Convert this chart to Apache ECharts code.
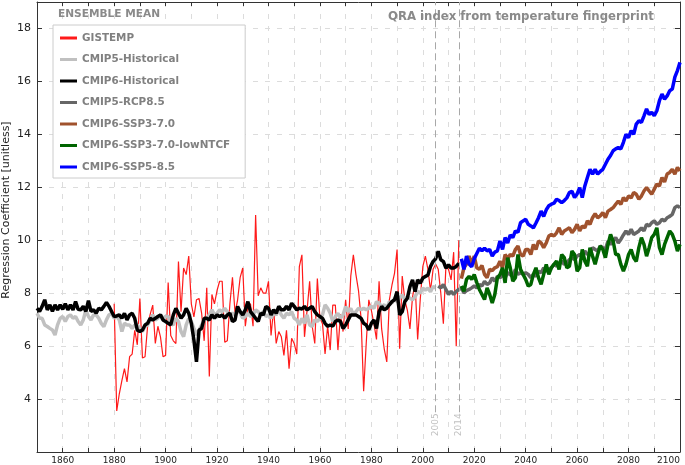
<!DOCTYPE html>
<html>
<head>
<meta charset="utf-8">
<script src="https://cdn.jsdelivr.net/npm/echarts@6/dist/echarts.min.js"></script>
<style>
  html, body { margin: 0; padding: 0; background: #fff; }
  #chart { width: 685px; height: 465px; }
</style>
</head>
<body>
<div id="chart"></div>
<script>
// annual values, first year given separately
var gistempStart = 1880;
var gistemp = [
    7.6, 3.55, 4.2, 4.7, 5.15, 4.65, 5.6, 5.7, 6.6, 6.05,
    7.8, 5.55, 5.6, 6.75, 7.2, 7.55, 6.1, 6.75, 6.35, 5.6,
    5.65, 8.4, 6.4, 6.2, 6.1, 9.2, 7.3, 8.95, 8.7, 9.4,
    7.6, 7.1, 7.75, 7.8, 7.25, 6.2, 8.2, 4.85, 7.95, 7.6,
    8.1, 8.45, 8.45, 6.15, 6.2, 7.6, 8.6, 7.25, 7.75, 8.6,
    8.95, 6.75, 7.5, 7.6, 6.75, 10.95, 7.9, 8.2, 8.0, 8.0,
    8.45, 6.4, 7.4, 6.1, 6.55, 6.35, 5.65, 6.6, 5.15, 6.3,
    6.1, 5.7, 9.0, 9.45, 6.35, 7.35, 8.45, 6.75, 6.1, 8.55,
    7.05, 6.85, 5.7, 6.75, 5.85, 7.55, 7.55, 5.85, 7.2, 6.55,
    7.75, 6.65, 8.65, 9.45, 8.7, 8.1, 7.05, 4.3, 6.1, 7.75,
    7.35, 6.85, 6.25, 8.45, 6.65, 5.9, 5.4, 7.75, 8.3, 8.75,
    9.65, 5.9, 8.65, 7.75, 7.35, 6.65, 7.85, 8.4, 6.25, 7.75,
    9.0, 9.4, 8.9, 8.1, 8.9, 9.1, 8.9, 8.0, 6.85, 9.05,
    8.9, 8.5, 9.55, 6.0, 10.0
];

var cmip5HistStart = 1850;
var cmip5Hist = [
    7.24, 7.05, 7.05, 6.8, 6.74, 6.67, 6.61, 6.42, 6.8, 7.05,
    7.12, 6.93, 7.12, 7.18, 7.05, 7.12, 6.93, 6.8, 6.99, 7.37,
    7.12, 6.99, 7.18, 7.18, 7.05, 6.86, 6.74, 6.99, 7.18, 7.24,
    7.05, 7.12, 6.99, 6.55, 6.86, 6.8, 6.8, 6.67, 6.8, 6.8,
    6.67, 6.55, 6.74, 6.8, 6.99, 7.18, 6.99, 7.05, 7.18, 7.05,
    7.12, 7.12, 6.86, 6.8, 7.05, 6.93, 6.55, 6.36, 6.8, 7.05,
    6.93, 6.67, 6.42, 6.61, 6.8, 6.99, 7.05, 7.18, 7.37, 7.18,
    7.24, 7.37, 7.3, 7.43, 7.3, 7.18, 7.24, 7.18, 7.37, 7.24,
    7.05, 7.12, 7.24, 7.12, 7.18, 7.37, 7.3, 7.18, 7.3, 7.12,
    7.18, 7.05, 7.24, 7.18, 7.37, 7.18, 7.05, 7.24, 7.18, 7.3,
    7.05, 6.99, 6.8, 7.05, 6.86, 7.18, 6.8, 6.74, 6.99, 6.93,
    7.05, 7.18, 7.56, 7.43, 7.24, 6.93, 7.12, 7.24, 7.05, 7.18,
    7.5, 7.3, 7.43, 7.18, 7.3, 7.43, 7.37, 7.43, 7.37, 7.43,
    7.5, 7.43, 7.68, 7.62, 7.5, 7.56, 7.43, 7.68, 7.62, 7.81,
    7.68, 7.81, 7.94, 7.75, 7.87, 7.81, 7.75, 7.87, 8.06, 8.0,
    8.19, 8.12, 8.19, 8.06, 8.25, 8.2
];

var cmip6HistStart = 1850;
var cmip6Hist = [
    7.43, 7.31, 7.5, 7.75, 7.37, 7.56, 7.31, 7.56, 7.37, 7.56,
    7.39, 7.6, 7.37, 7.56, 7.37, 7.68, 7.39, 7.37, 7.5, 7.31,
    7.72, 7.31, 7.37, 7.24, 7.43, 7.37, 7.5, 7.65, 7.5, 7.31,
    7.12, 7.14, 7.18, 7.05, 7.24, 6.99, 7.18, 7.24, 7.05, 6.6,
    6.55, 6.61, 6.8, 6.86, 7.05, 6.99, 7.05, 7.12, 7.18, 6.99,
    6.93, 6.86, 6.8, 7.18, 7.43, 7.24, 7.05, 7.18, 7.43, 7.24,
    6.86, 6.23, 5.41, 6.6, 6.67, 7.05, 7.05, 6.99, 7.18, 7.05,
    7.18, 7.12, 7.18, 7.05, 7.18, 7.24, 6.93, 6.99, 7.5, 7.3,
    7.18, 7.37, 7.68, 7.3, 7.18, 7.05, 6.93, 7.24, 7.18, 7.5,
    7.43, 7.18, 7.37, 7.24, 7.5, 7.37, 7.37, 7.5, 7.37, 7.62,
    7.5, 7.37, 7.43, 7.4, 7.5, 7.37, 7.43, 7.5, 7.3, 7.18,
    7.12, 7.05, 6.86, 6.75, 6.8, 6.75, 6.93, 6.99, 6.93, 6.67,
    6.8, 6.99, 7.18, 7.18, 7.18, 7.12, 7.05, 6.86, 6.8, 6.61,
    6.86, 6.99, 6.67, 7.3, 7.5, 7.37, 7.43, 7.56, 7.68, 7.75,
    8.06, 7.18, 7.3, 7.68, 7.81, 8.25, 8.5, 8.06, 8.5, 8.38,
    8.57, 8.63, 8.69, 9.01, 9.2, 9.3, 9.58, 9.26, 9.2, 8.95,
    9.07, 8.95, 8.95, 9.01, 9.13
];

var rcp85Start = 2006;
var rcp85 = [
    8.27, 8.2, 8.33, 8.14,
    7.95, 8.07, 7.95, 8.07, 8.14, 8.2, 8.01, 8.1, 8.14, 8.2,
    8.27, 8.2, 8.33, 8.27, 8.45, 8.33, 8.39, 8.58, 8.45, 8.64,
    8.58, 8.7, 8.58, 8.77, 8.7, 8.64, 8.9, 8.71, 8.77, 8.71,
    8.77, 8.71, 8.58, 8.71, 8.64, 8.83, 8.77, 8.96, 8.83, 8.9,
    8.96, 9.09, 9.02, 9.09, 9.21, 9.09, 9.15, 9.27, 9.34, 9.27,
    9.4, 9.46, 9.4, 9.59, 9.46, 9.52, 9.72, 9.65, 9.59, 9.78,
    9.72, 9.65, 9.97, 9.84, 9.97, 10.1, 9.9, 10.03, 10.2, 10.35,
    10.22, 10.41, 10.22, 10.28, 10.35, 10.47, 10.35, 10.6, 10.54, 10.66,
    10.73, 10.6, 10.66, 10.79, 10.73, 10.85, 10.9, 10.98, 11.23, 11.3,
    11.23
];

var sspStart = 2015;
var ssp370 = [
    8.55, 8.96, 9.1, 9.4, 9.09,
    9.4, 8.96, 8.9, 9.05, 8.71, 8.58, 8.9, 8.85, 8.96, 9.0,
    9.21, 8.96, 9.46, 9.3, 9.46, 9.4, 9.65, 9.78, 9.46, 9.4,
    9.65, 9.65, 9.46, 9.84, 9.65, 9.97, 9.9, 9.72, 9.9, 10.16,
    10.22, 10.16, 10.28, 10.47, 10.22, 10.35, 10.41, 10.47, 10.28, 10.41,
    10.6, 10.35, 10.54, 10.47, 10.73, 10.6, 10.85, 11.0, 10.85, 10.92,
    11.05, 10.85, 11.1, 11.16, 11.23, 11.36, 11.48, 11.35, 11.61, 11.48,
    11.67, 11.6, 11.8, 11.74, 11.55, 11.67, 11.86, 11.99, 11.86, 11.74,
    11.93, 12.12, 12.05, 12.37, 12.2, 12.5, 12.56, 12.68, 12.5, 12.75,
    12.62
];

var ssp370low = [
    8.27, 8.07, 8.52, 8.64, 8.52,
    8.7, 8.4, 8.14, 7.95, 7.76, 8.2, 7.95, 7.63, 7.95, 8.58,
    8.7, 8.96, 8.39, 9.34, 8.96, 8.45, 8.58, 9.46, 8.9, 8.71,
    8.52, 8.27, 8.33, 8.71, 8.96, 8.58, 8.33, 8.71, 9.09, 8.71,
    8.96, 9.09, 9.21, 8.9, 9.46, 9.34, 8.96, 9.02, 9.59, 9.46,
    8.83, 8.96, 9.65, 9.21, 9.02, 9.72, 9.4, 9.09, 9.46, 9.78,
    9.65, 9.34, 9.84, 10.22, 9.97, 9.46, 9.46, 9.09, 8.83, 9.09,
    9.46, 9.65, 9.34, 9.2, 9.72, 10.1, 9.84, 9.4, 9.72, 10.1,
    10.22, 10.47, 9.72, 9.46, 9.84, 10.1, 10.35, 10.22, 9.97, 9.59,
    9.84
];

var ssp585 = [
    9.3, 8.9, 9.4, 9.1, 9.0,
    9.3, 9.5, 9.7, 9.6, 9.7, 9.6, 9.65, 9.4, 9.55, 9.6,
    9.97, 9.65, 10.1, 9.9, 10.2, 10.1, 10.35, 10.3, 10.66, 10.73,
    10.79, 10.6, 10.54, 10.47, 10.65, 10.85, 11.1, 10.9, 11.15, 11.3,
    11.36, 11.4, 11.55, 11.5, 11.42, 11.5, 11.6, 11.8, 11.85, 11.61,
    11.75, 11.99, 11.61, 12.05, 12.37, 12.68, 12.5, 12.68, 12.5, 12.6,
    12.68, 12.87, 13.06, 13.2, 13.38, 13.45, 13.5, 13.45, 13.7, 14.0,
    13.88, 14.14, 14.0, 14.39, 14.51, 14.45, 14.7, 14.96, 14.75, 14.83,
    14.7, 14.89, 15.27, 15.52, 15.33, 15.45, 15.65, 15.71, 16.16, 16.41,
    16.72
];

var markYears = [2005, 2014];

var font = 'DejaVu Sans';

function pairs(start, arr) {
    return arr.map(function (v, i) { return [start + i, v]; });
}

function thick(name, color, start, arr) {
    return {
        name: name,
        type: 'line',
        data: pairs(start, arr),
        showSymbol: false,
        symbol: 'none',
        lineStyle: { width: 3.5, color: color },
        itemStyle: { color: color },
        silent: true
    };
}

var chart = echarts.init(document.getElementById('chart'));

var option = {
    animation: false,
    backgroundColor: '#fff',
    title: [{
        text: 'ENSEMBLE MEAN',
        left: 58, top: 9, padding: 0,
        textStyle: { fontFamily: font, fontSize: 10.6, fontWeight: 'bold', color: '#8a8a8a' }
    }, {
        text: 'QRA index from temperature fingerprint',
        left: 388, top: 11, padding: 0,
        textStyle: { fontFamily: font, fontSize: 11.7, fontWeight: 'bold', color: '#8a8a8a' }
    }],
    legend: {
        orient: 'vertical',
        left: 53, top: 25,
        padding: [8, 15, 6, 7],
        itemGap: 11.5,
        itemWidth: 17,
        itemHeight: 3,
        icon: 'rect',
        borderColor: '#cccccc',
        borderWidth: 1,
        backgroundColor: '#fff',
        selectedMode: false,
        data: ['GISTEMP', 'CMIP5-Historical', 'CMIP6-Historical', 'CMIP5-RCP8.5',
               'CMIP6-SSP3-7.0', 'CMIP6-SSP3-7.0-lowNTCF', 'CMIP6-SSP5-8.5'],
        textStyle: { fontFamily: font, fontSize: 10.4, fontWeight: 'bold', color: '#808080' }
    },
    grid: { left: 37, right: 5, top: 2, bottom: 13, outerBoundsMode: 'none' },
    xAxis: [{
        type: 'value', min: 1850, max: 2100, interval: 10,
        axisLine: { lineStyle: { color: '#333' } },
        axisTick: { inside: true, length: 4, lineStyle: { color: '#333' } },
        axisLabel: {
            fontFamily: font, fontSize: 9, color: '#222', margin: 4,
            alignMaxLabel: 'right',
            formatter: function (v) { return v % 20 === 0 ? String(v) : ''; }
        },
        splitLine: { show: true, lineStyle: { color: '#dcdcdc', type: [5, 7] } }
    }, {
        type: 'value', min: 1850, max: 2100, interval: 10, position: 'top',
        axisLine: { lineStyle: { color: '#333' } },
        axisTick: { inside: true, length: 4, lineStyle: { color: '#333' } },
        axisLabel: { show: false },
        splitLine: { show: false }
    }],
    yAxis: [{
        type: 'value', min: 2, max: 19, interval: 2,
        axisLine: { show: true, lineStyle: { color: '#333' } },
        axisTick: { show: true, inside: true, length: 5, lineStyle: { color: '#333' } },
        axisLabel: {
            fontFamily: font, fontSize: 11, color: '#222', margin: 6,
            formatter: function (v) { return (v === 2 || v === 19) ? '' : String(v); }
        },
        splitLine: { show: true, lineStyle: { color: '#dcdcdc', type: [5, 7] } }
    }, {
        type: 'value', min: 2, max: 19, interval: 2, position: 'right',
        axisLine: { show: true, lineStyle: { color: '#333' } },
        axisTick: { show: true, inside: true, length: 5, lineStyle: { color: '#333' } },
        axisLabel: { show: false },
        splitLine: { show: false }
    }],
    graphic: [{
        type: 'text',
        x: 6, y: 210,
        rotation: Math.PI / 2,
        style: {
            text: 'Regression Coefficient [unitless]',
            fontFamily: font, fontSize: 11, fill: '#222',
            textAlign: 'center', textVerticalAlign: 'middle',
            align: 'center', verticalAlign: 'middle'
        }
    }],
    series: [
        {
            name: 'GISTEMP',
            type: 'line',
            data: pairs(gistempStart, gistemp),
            showSymbol: false,
            symbol: 'none',
            lineStyle: { width: 1.2, color: '#ff1a1a' },
            itemStyle: { color: '#ff1a1a' },
            silent: true
        },
        thick('CMIP5-Historical', '#c0c0c0', cmip5HistStart, cmip5Hist),
        thick('CMIP6-Historical', '#000000', cmip6HistStart, cmip6Hist),
        thick('CMIP5-RCP8.5', '#666666', rcp85Start, rcp85),
        thick('CMIP6-SSP3-7.0', '#a0522d', sspStart, ssp370),
        thick('CMIP6-SSP3-7.0-lowNTCF', '#006400', sspStart, ssp370low),
        thick('CMIP6-SSP5-8.5', '#0000ff', sspStart, ssp585),
        {
            // year markers for end of historical runs
            type: 'scatter',
            data: markYears.map(function (y) { return [y, 3.03]; }),
            symbolSize: 1,
            itemStyle: { color: 'rgba(0,0,0,0)' },
            silent: true,
            label: {
                show: true, position: 'inside', rotate: 90,
                fontFamily: font, fontSize: 9, color: '#b0b0b0',
                formatter: function (p) { return String(p.value[0]); }
            },
            markLine: {
                silent: true,
                symbol: ['none', 'none'],
                label: { show: false },
                lineStyle: { type: [7, 4], color: '#a8a8a8', width: 1 },
                data: markYears.map(function (y) {
                    return [{ coord: [y, 3.5] }, { coord: [y, 19] }];
                })
            }
        }
    ]
};

chart.setOption(option);
</script>
</body>
</html>
